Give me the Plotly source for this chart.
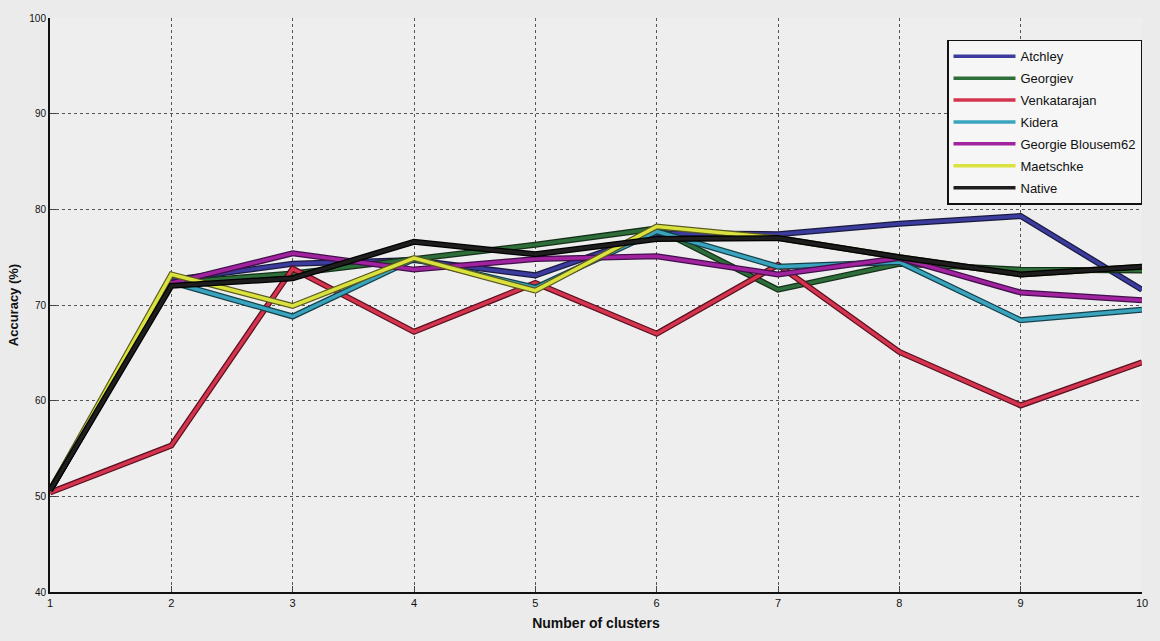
import plotly.graph_objects as go

clusters = [1, 2, 3, 4, 5, 6, 7, 8, 9, 10]

atchley      = [50.6, 72.6, 74.3, 74.7, 73.1, 77.5, 77.4, 78.5, 79.3, 71.6]
georgiev     = [50.6, 72.3, 73.3, 74.8, 76.3, 78.0, 71.6, 74.3, 73.7, 73.6]
venkatarajan = [50.4, 55.3, 73.8, 67.2, 72.3, 67.0, 74.2, 65.1, 59.5, 64.0]
kidera       = [50.6, 72.4, 68.8, 74.8, 71.8, 77.7, 74.0, 74.5, 68.4, 69.5]
blousem62    = [50.6, 72.3, 75.4, 73.7, 74.8, 75.1, 73.2, 74.9, 71.3, 70.5]
maetschke    = [50.6, 73.2, 69.9, 74.9, 71.5, 78.2, 77.0, 75.0, 73.2, 74.0]
native       = [50.6, 72.0, 72.8, 76.6, 75.3, 76.9, 77.0, 75.0, 73.2, 74.0]

names = ["Atchley", "Georgiev", "Venkatarajan", "Kidera",
         "Georgie Blousem62", "Maetschke", "Native"]
series = [atchley, georgiev, venkatarajan, kidera, blousem62, maetschke, native]
colors = ["#3c3c9e", "#2e6e3a", "#d4344e", "#3aa3bd", "#a2239f", "#d9e23e", "#1e1e1e"]
outline = ["#1a1a40", "#143018", "#5a1020", "#14404a", "#40104a", "#5a5a20", "#000000"]

fig = go.Figure()
for name, vals, col, oc in zip(names, series, colors, outline):
    fig.add_trace(go.Scatter(x=clusters, y=vals, mode="lines",
                             line=dict(color=oc, width=6),
                             showlegend=False, hoverinfo="skip",
                             legendgroup=name))
    fig.add_trace(go.Scatter(x=clusters, y=vals, mode="lines", name=name,
                             line=dict(color=col, width=3.5),
                             legendgroup=name))

fig.update_layout(
    width=1160, height=641,
    margin=dict(l=50, r=12, t=18, b=46),
    paper_bgcolor="#ebebeb",
    plot_bgcolor="#eeeeee",
    font=dict(family="Liberation Sans, Arial, sans-serif", size=11, color="#111111"),
    showlegend=True,
    legend=dict(x=1.0, y=0.962, xanchor="right", yanchor="top",
                bgcolor="#f6f6f6", bordercolor="#111111", borderwidth=1.5,
                font=dict(size=13, color="#111111"),
                tracegroupgap=2, itemwidth=62),
    xaxis=dict(range=[1, 10], tickvals=clusters, ticks="inside", ticklen=6,
               showline=True, linecolor="#111111", linewidth=2,
               showgrid=True, gridcolor="#555555", griddash="dot", gridwidth=1,
               zeroline=False,
               title=dict(text="<b>Number of clusters</b>", font=dict(size=14), standoff=10),
               tickfont=dict(size=11)),
    yaxis=dict(range=[40, 100], tickvals=[40, 50, 60, 70, 80, 90, 100],
               ticks="inside", ticklen=6,
               showline=True, linecolor="#111111", linewidth=2,
               showgrid=True, gridcolor="#555555", griddash="dot", gridwidth=1,
               zeroline=False,
               title=dict(text="<b>Accuracy (%)</b>", font=dict(size=13), standoff=8),
               tickfont=dict(size=10)),
)

fig.write_html("out.html")
